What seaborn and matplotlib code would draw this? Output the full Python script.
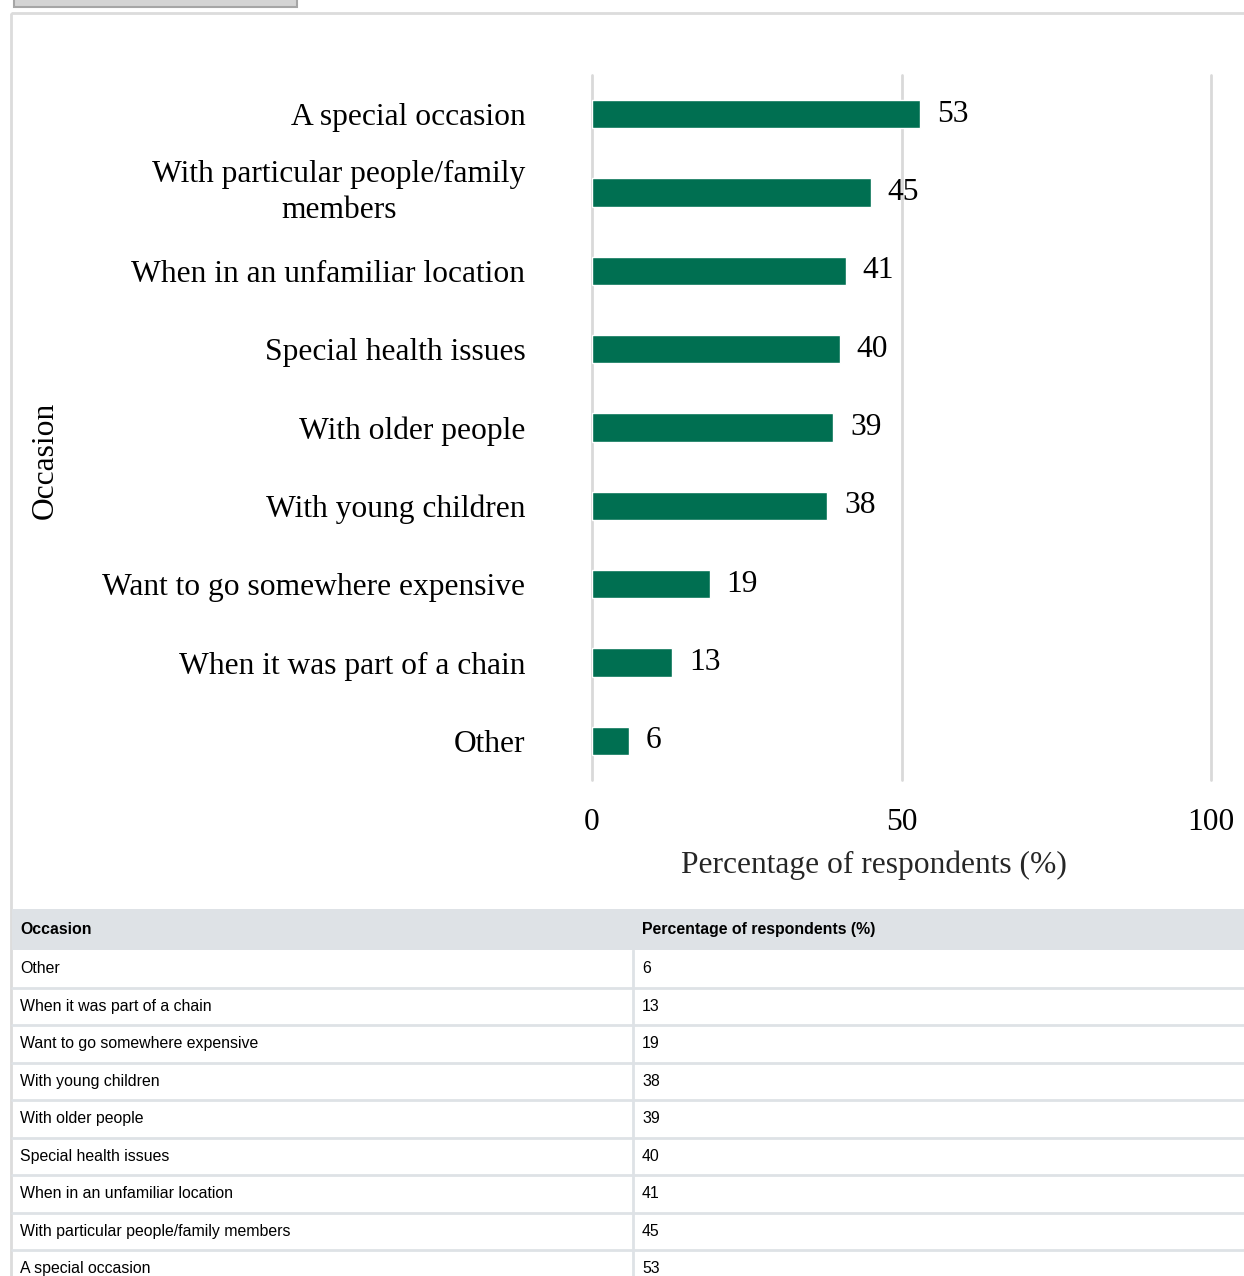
import matplotlib
matplotlib.use("Agg")
import matplotlib.pyplot as plt
import seaborn as sns
import pandas as pd
from matplotlib.patches import Rectangle

# chart data (top to bottom as shown in the bar chart)
occasions = [
    "A special occasion",
    "With particular people/family members",
    "When in an unfamiliar location",
    "Special health issues",
    "With older people",
    "With young children",
    "Want to go somewhere expensive",
    "When it was part of a chain",
    "Other",
]
axis_labels = [
    "A special occasion",
    "With particular people/family\nmembers",
    "When in an unfamiliar location",
    "Special health issues",
    "With older people",
    "With young children",
    "Want to go somewhere expensive",
    "When it was part of a chain",
    "Other",
]
percentages = [53, 45, 41, 40, 39, 38, 19, 13, 6]
x_ticks = [0, 50, 100]
x_title = "Percentage of respondents (%)"
y_title = "Occasion"

BAR_COLOR = "#006f51"
GRID_COLOR = "#d9d9d9"
TABLE_LINE = "#dee2e6"
FS = 22.7

sns.set_theme(style="white")
plt.rcParams["font.family"] = ["Liberation Serif", "DejaVu Serif"]
plt.rcParams["text.color"] = "black"
plt.rcParams["xtick.color"] = "black"
plt.rcParams["ytick.color"] = "black"

W, H = 1244, 1276
fig = plt.figure(figsize=(W / 100, H / 100), dpi=100)

# page layer: frame, button, data table
bg = fig.add_axes([0, 0, 1, 1], zorder=0)
bg.set_xlim(0, W)
bg.set_ylim(H, 0)
bg.axis("off")

bg.add_patch(Rectangle((14, -10), 283, 17, fc="#d4d4d4", ec="#a6a6a6", lw=1.5))
bg.add_patch(Rectangle((11, 13), W + 10, H + 10, fill=False, ec="#dcdcdc", lw=2))

# table (rows listed bottom-up, like the source)
sans = ["Liberation Sans", "DejaVu Sans"]
tfs = 11.4
head_top, head_h, row_h, col2 = 909, 41, 37.5, 633
bg.add_patch(Rectangle((12, head_top), W - 12, head_h, fc=TABLE_LINE, ec="none"))
bg.text(20, head_top + head_h / 2, y_title, family=sans, fontsize=tfs,
        fontweight="bold", va="center", color="black")
bg.text(col2 + 9, head_top + head_h / 2, x_title, family=sans, fontsize=tfs,
        fontweight="bold", va="center", color="black")
rows = list(zip(occasions, percentages))[::-1]
top = head_top + head_h
for i, (name, val) in enumerate(rows):
    yc = top + row_h * (i + 0.5)
    bg.text(20, yc, name, family=sans, fontsize=tfs, va="center", color="black")
    bg.text(col2 + 9, yc, str(val), family=sans, fontsize=tfs, va="center", color="black")
    if i > 0:
        bg.plot([12, W], [top + row_h * i] * 2, color=TABLE_LINE, lw=2)
bg.plot([col2, col2], [top, H], color=TABLE_LINE, lw=2)

# bar chart
ax = fig.add_axes([592 / W, 1 - 780 / H, (1211 - 592) / W, (780 - 75) / H], zorder=1)
ax.patch.set_alpha(0)
df = pd.DataFrame({"occasion": axis_labels, "pct": percentages})
sns.barplot(data=df, x="pct", y="occasion", color=BAR_COLOR, saturation=1,
            width=0.36, ax=ax)
ax.set_xlim(0, 100)
ax.set_ylim(8.5, -0.5)
ax.set_xticks(x_ticks)
ax.xaxis.grid(True, color=GRID_COLOR, lw=2)
ax.yaxis.grid(False)
ax.set_axisbelow(True)
for gl in ax.get_xgridlines():
    gl.set_clip_on(False)
for s in ax.spines.values():
    s.set_visible(False)

ax.tick_params(axis="x", length=0, pad=20, labelsize=FS)
ax.tick_params(axis="y", length=0, pad=48, labelsize=FS)
for lbl in ax.get_yticklabels():
    lbl.set_multialignment("center")
    if "\n" in lbl.get_text():
        lbl.set_linespacing(1.35)
        lbl.set_verticalalignment("center")

ax.bar_label(ax.containers[0], labels=[str(v) for v in percentages],
             padding=12, fontsize=FS)

ax.set_ylabel("")
ax.set_xlabel(x_title, fontsize=FS)
ax.xaxis.set_label_coords(0.456, -0.1)
fig.text(45 / W, 1 - 460 / H, y_title, rotation=90, fontsize=FS,
         ha="center", va="center")

fig.savefig("out.png", dpi=100)
